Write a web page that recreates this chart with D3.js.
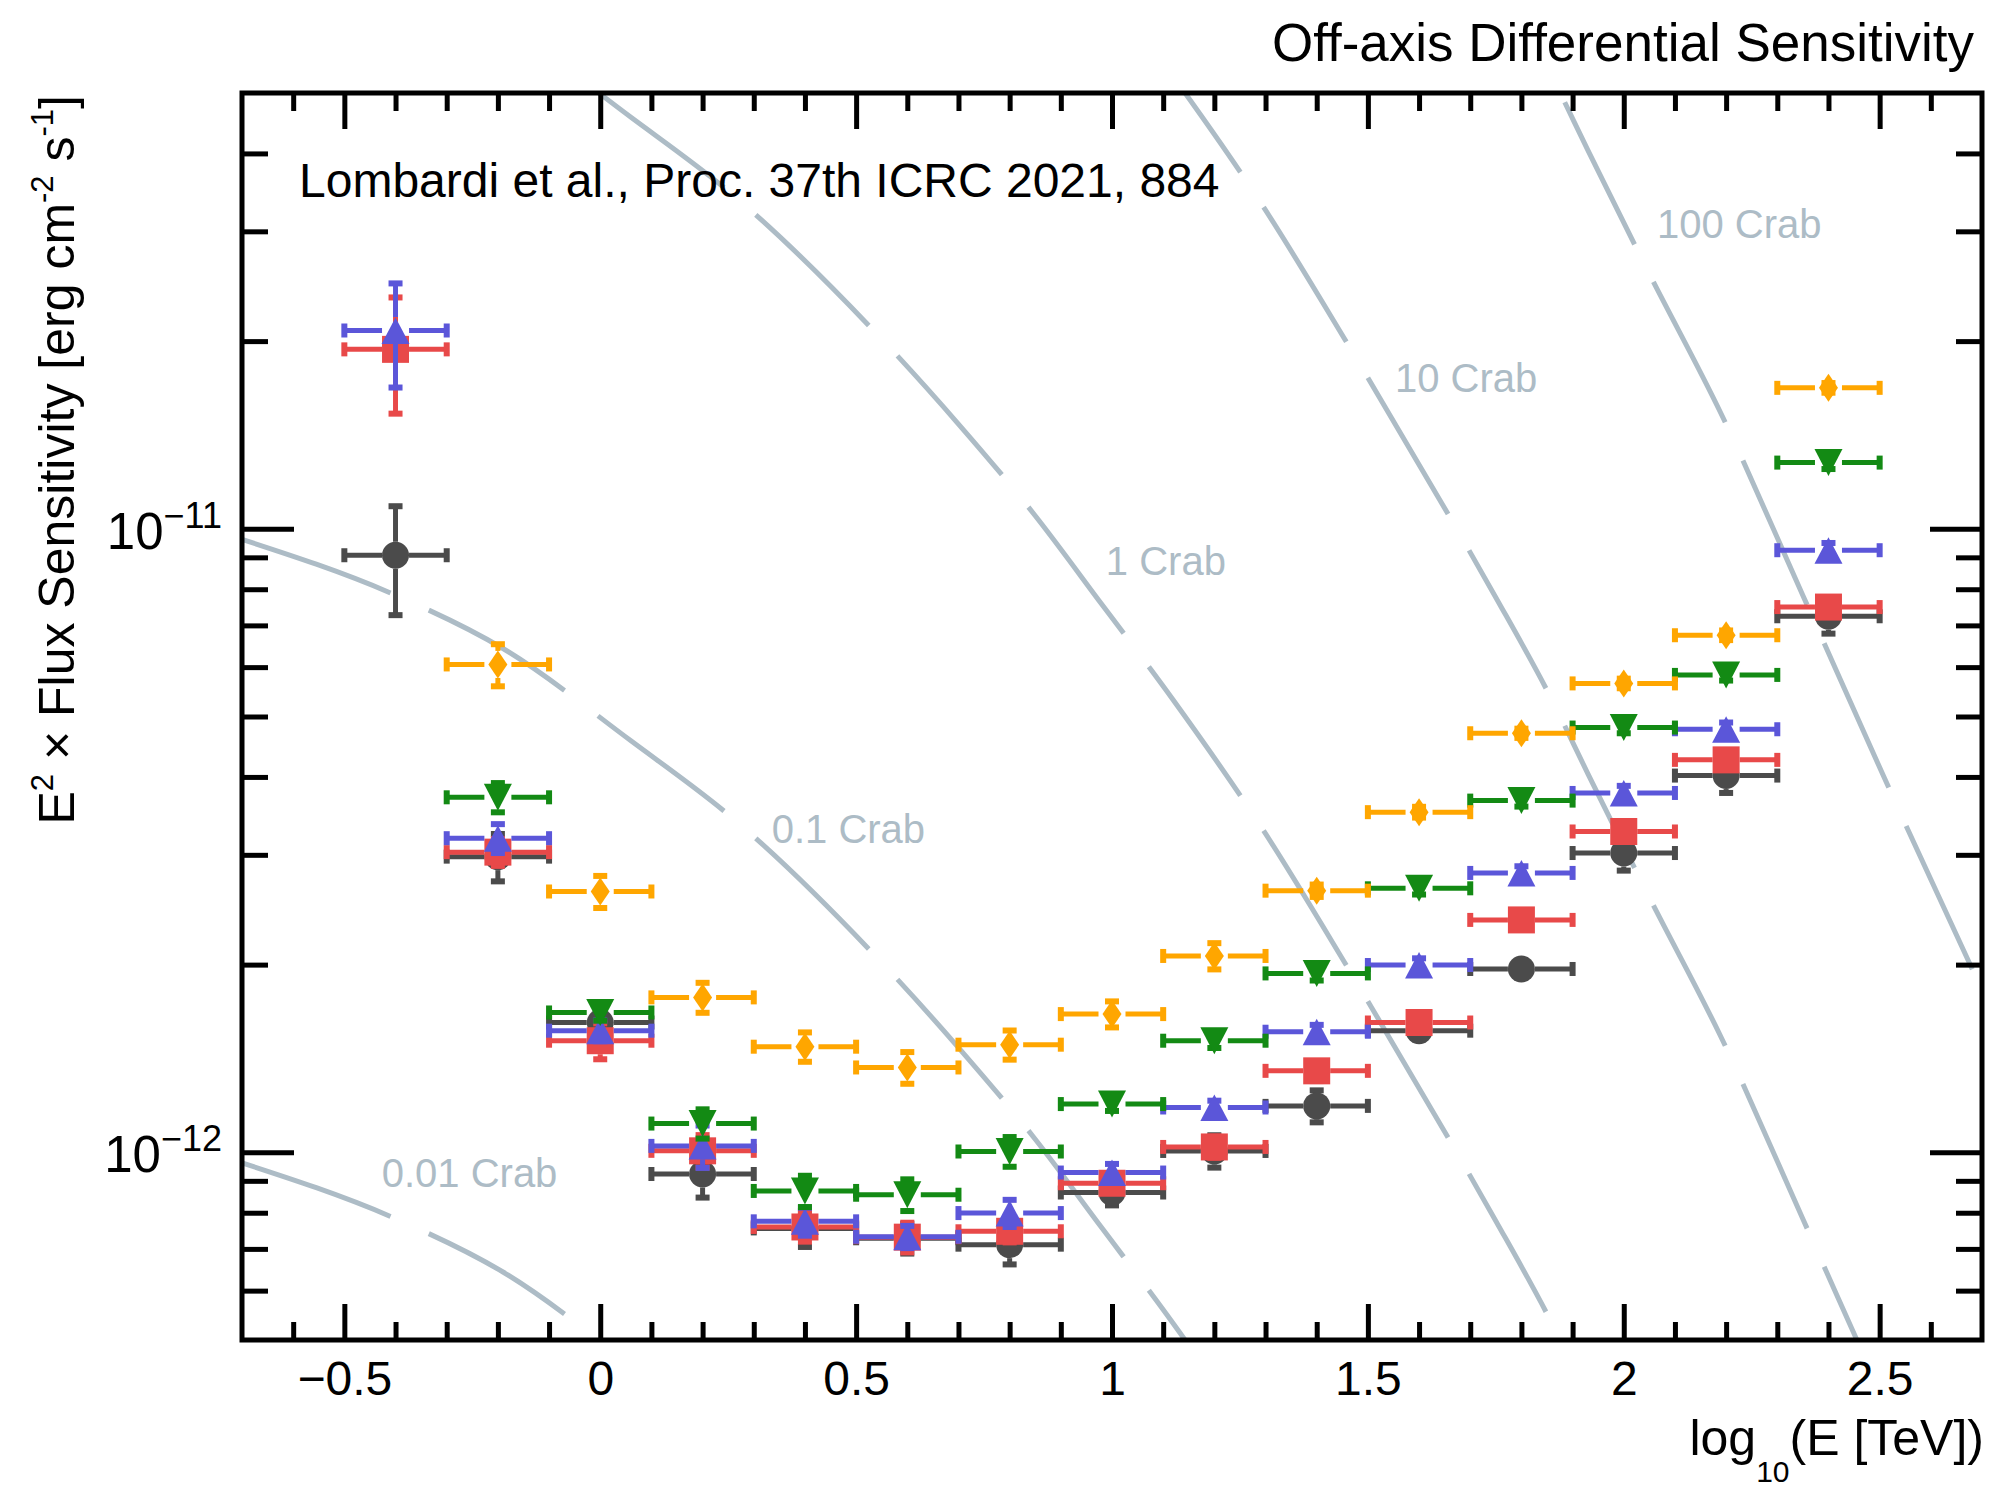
<!DOCTYPE html>
<html>
<head>
<meta charset="utf-8">
<style>
  body { margin: 0; background: #fff; }
  svg text { font-family: "Liberation Sans", Arial, Helvetica, sans-serif; }
</style>
</head>
<body>
<div id="chart"></div>
<script src="https://cdn.jsdelivr.net/npm/d3@7"></script>
<script>
// energy bins, log10(E/TeV), half width 0.1
var binCentres = [-0.4, -0.2, 0.0, 0.2, 0.4, 0.6, 0.8, 1.0, 1.2, 1.4, 1.6, 1.8, 2.0, 2.2, 2.4];
var binHalfWidth = 0.1;

// sensitivity values, units of 1e-12 erg cm^-2 s^-1 (null = no point)
var blackVals  = [9.07, 2.98, 1.615, 0.923, 0.755, 0.728, 0.711, 0.862, 1.005, 1.187, 1.567, 1.968, 3.02, 4.02, 7.24];
var blackErrs  = [1.8, 0.26, 0.05, 0.077, 0.05, 0.04, 0.05, 0.04, 0.06, 0.07, 0.05, 0.06, 0.19, 0.25, 0.45];
var redVals    = [19.4, 3.03, 1.51, 1.0055, 0.759, 0.731, 0.747, 0.892, 1.02, 1.351, 1.615, 2.359, 3.27, 4.26, 7.49];
var redErrs    = [4.1, 0.15, 0.1, 0.06, 0.04, 0.04, 0.03, 0.03, 0.04, 0.05, 0.05, 0.07, 0.1, 0.15, 0.25];
var blueVals   = [20.8, 3.19, 1.567, 1.024, 0.775, 0.732, 0.799, 0.928, 1.18, 1.561, 1.997, 2.806, 3.77, 4.77, 9.24];
var blueErrs   = [3.95, 0.17, 0.06, 0.08, 0.04, 0.03, 0.04, 0.03, 0.03, 0.04, 0.05, 0.07, 0.1, 0.12, 0.25];
var greenVals  = [null, 3.71, 1.676, 1.112, 0.867, 0.855, 1.003, 1.195, 1.51, 1.936, 2.651, 3.665, 4.80, 5.83, 12.77];
var greenErrs  = [null, 0.2, 0.05, 0.06, 0.05, 0.05, 0.055, 0.03, 0.04, 0.05, 0.06, 0.08, 0.1, 0.12, 0.3];
var orangeVals = [null, 6.06, 2.62, 1.772, 1.477, 1.368, 1.488, 1.666, 2.065, 2.628, 3.512, 4.70, 5.65, 6.75, 16.83];
var orangeErrs = [null, 0.47, 0.155, 0.098, 0.08, 0.08, 0.08, 0.08, 0.1, 0.06, 0.07, 0.08, 0.1, 0.12, 0.3];

// 1 Crab reference curve: log10(E/TeV) and log10(E^2 F)
var crabLogE    = [-0.70, -0.39, -0.19, 0.06, 0.26, 0.54, 0.70, 0.85, 0.98, 1.12, 1.30, 1.46, 1.66, 1.75, 1.86, 1.93, 2.05, 2.19, 2.35, 2.51, 2.70];
var crabLogFlux = [-10.017, -10.110, -10.192, -10.340, -10.465, -10.687, -10.832, -10.979, -11.121, -11.275, -11.489, -11.703, -11.981, -12.110, -12.275, -12.393, -12.591, -12.815, -13.107, -13.401, -13.74];
var crabLevels  = [0.01, 0.1, 1, 10, 100];
var crabNames   = ["0.01 Crab", "0.1 Crab", "1 Crab", "10 Crab", "100 Crab"];

// axis ticks
var xMajorTicks = [-0.5, 0, 0.5, 1, 1.5, 2, 2.5];
var yMajorTicks = [1e-12, 1e-11];
var yTickLabels = ["\u221212", "\u221211"];

var W = 1994, H = 1487;
var plotL = 242, plotR = 1982, plotT = 93, plotB = 1340;

var svg = d3.select("#chart").append("svg")
    .attr("width", W).attr("height", H);

var x = d3.scaleLinear().domain([-0.7, 2.7]).range([plotL, plotR]);
var y = d3.scaleLog().domain([5e-13, 5e-11]).range([plotB, plotT]);

svg.append("clipPath").attr("id", "clip")
  .append("rect")
    .attr("x", plotL).attr("y", plotT)
    .attr("width", plotR - plotL).attr("height", plotB - plotT);

// ---- Crab curves ----
var crabColor = "#adbcc6";
var crabPts = crabLogE.map(function(e, i) { return {e: e, f: Math.pow(10, crabLogFlux[i])}; });
var crabLine = d3.line().curve(d3.curveMonotoneX);

var crabG = svg.append("g").attr("clip-path", "url(#clip)");
crabLevels.forEach(function(k) {
  crabG.append("path")
    .attr("d", crabLine(crabPts.map(function(p) { return [x(p.e), y(p.f * k)]; })))
    .attr("fill", "none")
    .attr("stroke", crabColor)
    .attr("stroke-width", 5)
    .attr("stroke-dasharray", "158,42");
});

// label anchors (data coords)
var crabLabelPos = [[-0.427, 8.8e-13], [0.335, 3.13e-12], [0.988, 8.43e-12], [1.553, 1.657e-11], [2.065, 2.926e-11]];
crabNames.forEach(function(t, i) {
  svg.append("text")
    .attr("x", x(crabLabelPos[i][0]))
    .attr("y", y(crabLabelPos[i][1]))
    .attr("font-size", 40)
    .attr("fill", crabColor)
    .text(t);
});

// ---- data points ----
var seriesList = [
  {vals: blackVals,  errs: blackErrs,  color: "#4b4b4b", shape: "circle"},
  {vals: redVals,    errs: redErrs,    color: "#e84949", shape: "square"},
  {vals: blueVals,   errs: blueErrs,   color: "#5b56d9", shape: "triUp"},
  {vals: greenVals,  errs: greenErrs,  color: "#138a14", shape: "triDown"},
  {vals: orangeVals, errs: orangeErrs, color: "#ffa600", shape: "diamond"}
];

function markerPath(shape) {
  var p = d3.path();
  if (shape == "circle") {
    p.moveTo(13.5, 0); p.arc(0, 0, 13.5, 0, 2 * Math.PI);
  } else if (shape == "square") {
    p.rect(-13.5, -13.5, 27, 27);
  } else if (shape == "triUp") {
    p.moveTo(0, -13); p.lineTo(14, 13.5); p.lineTo(-14, 13.5); p.closePath();
  } else if (shape == "triDown") {
    p.moveTo(-14, -13.5); p.lineTo(14, -13.5); p.lineTo(0, 13.5); p.closePath();
  } else {
    p.moveTo(0, -14); p.lineTo(9.5, 0); p.lineTo(0, 14); p.lineTo(-9.5, 0); p.closePath();
  }
  return p.toString();
}

var gap = 13.5;
seriesList.forEach(function(s) {
  var g = svg.append("g");
  binCentres.forEach(function(b, i) {
    var v = s.vals[i];
    if (v == null) return;
    var e = s.errs[i];
    var cx = x(b), cy = y(v * 1e-12);
    var xl = x(b - binHalfWidth), xr = x(b + binHalfWidth);
    var yt = y((v + e) * 1e-12), yb = y((v - e) * 1e-12);
    var pg = g.append("g");
    // horizontal bar
    pg.append("line").attr("x1", xl).attr("x2", cx - gap).attr("y1", cy).attr("y2", cy);
    pg.append("line").attr("x1", cx + gap).attr("x2", xr).attr("y1", cy).attr("y2", cy);
    pg.append("rect").attr("x", xl - 3).attr("y", cy - 7).attr("width", 6).attr("height", 14);
    pg.append("rect").attr("x", xr - 3).attr("y", cy - 7).attr("width", 6).attr("height", 14);
    // vertical bar
    if (yt < cy - gap) pg.append("line").attr("x1", cx).attr("x2", cx).attr("y1", yt).attr("y2", cy - gap);
    if (yb > cy + gap) pg.append("line").attr("x1", cx).attr("x2", cx).attr("y1", cy + gap).attr("y2", yb);
    pg.append("rect").attr("x", cx - 7).attr("y", yt - 3).attr("width", 14).attr("height", 6);
    pg.append("rect").attr("x", cx - 7).attr("y", yb - 3).attr("width", 14).attr("height", 6);
    pg.selectAll("line").attr("stroke", s.color).attr("stroke-width", 5);
    pg.selectAll("rect").attr("fill", s.color);
    pg.append("path")
      .attr("transform", "translate(" + cx + "," + cy + ")")
      .attr("d", markerPath(s.shape))
      .attr("fill", s.color);
  });
});

// ---- axes / frame ----
var xMinor = d3.range(-6, 27).map(function(d) { return d / 10; })
  .filter(function(d) { return Math.abs(d * 2 - Math.round(d * 2)) > 1e-6; });
var yMinor = [];
[-13, -12, -11].forEach(function(p) {
  for (var m = 2; m <= 9; m++) {
    var v = m * Math.pow(10, p);
    if (v > 5.01e-13 && v < 4.99e-11) yMinor.push(v);
  }
});

function styleAxis(g) {
  g.select(".domain").remove();
  g.selectAll("line").attr("stroke", "#000").attr("stroke-width", 5);
}

svg.append("g").attr("transform", "translate(0," + plotB + ")")
  .call(d3.axisBottom(x).tickValues(xMinor).tickSize(-18).tickFormat("")).call(styleAxis);
svg.append("g").attr("transform", "translate(0," + plotT + ")")
  .call(d3.axisTop(x).tickValues(xMinor).tickSize(-18).tickFormat("")).call(styleAxis);
svg.append("g").attr("transform", "translate(0," + plotT + ")")
  .call(d3.axisTop(x).tickValues(xMajorTicks).tickSize(-36).tickFormat("")).call(styleAxis);

var xAxisMajor = svg.append("g").attr("transform", "translate(0," + plotB + ")")
  .call(d3.axisBottom(x).tickValues(xMajorTicks).tickSize(-36).tickPadding(21)
    .tickFormat(function(d) { return d < 0 ? "\u2212" + Math.abs(d) : String(d); }))
  .call(styleAxis);
xAxisMajor.attr("font-size", null).attr("font-family", null);
xAxisMajor.selectAll("text").attr("font-size", 48).attr("fill", "#000");

svg.append("g").attr("transform", "translate(" + plotL + ",0)")
  .call(d3.axisLeft(y).tickValues(yMinor).tickSize(-26).tickFormat("")).call(styleAxis);
svg.append("g").attr("transform", "translate(" + plotL + ",0)")
  .call(d3.axisLeft(y).tickValues(yMajorTicks).tickSize(-52).tickFormat("")).call(styleAxis);
svg.append("g").attr("transform", "translate(" + plotR + ",0)")
  .call(d3.axisRight(y).tickValues(yMinor).tickSize(-26).tickFormat("")).call(styleAxis);
svg.append("g").attr("transform", "translate(" + plotR + ",0)")
  .call(d3.axisRight(y).tickValues(yMajorTicks).tickSize(-52).tickFormat("")).call(styleAxis);

// y tick labels 10^-n
yMajorTicks.forEach(function(v, i) {
  var t = svg.append("text")
    .attr("x", 222).attr("y", y(v) + 20)
    .attr("text-anchor", "end")
    .attr("font-size", 51);
  t.append("tspan").text("10");
  t.append("tspan").attr("dy", -21).attr("font-size", 36).text(yTickLabels[i]);
});

svg.append("rect")
  .attr("x", plotL).attr("y", plotT)
  .attr("width", plotR - plotL).attr("height", plotB - plotT)
  .attr("fill", "none").attr("stroke", "#000").attr("stroke-width", 5);

// ---- texts ----
svg.append("text")
  .attr("x", 1974).attr("y", 61)
  .attr("text-anchor", "end").attr("font-size", 53)
  .text("Off-axis Differential Sensitivity");

svg.append("text")
  .attr("x", 299).attr("y", 197)
  .attr("font-size", 48)
  .text("Lombardi et al., Proc. 37th ICRC 2021, 884");

var xt = svg.append("text")
  .attr("x", 1984).attr("y", 1455)
  .attr("text-anchor", "end").attr("font-size", 50);
xt.append("tspan").text("log");
xt.append("tspan").attr("dy", 27).attr("font-size", 30).text("10");
xt.append("tspan").attr("dy", -27).text("(E [TeV])");

var yt = svg.append("text")
  .attr("transform", "translate(74,95) rotate(-90)")
  .attr("text-anchor", "end").attr("font-size", 50);
yt.append("tspan").text("E");
yt.append("tspan").attr("dy", -21).attr("font-size", 31).text("2");
yt.append("tspan").attr("dy", 21).text(" \u00d7 Flux Sensitivity [erg cm");
yt.append("tspan").attr("dy", -21).attr("font-size", 31).text("-2");
yt.append("tspan").attr("dy", 21).text(" s");
yt.append("tspan").attr("dy", -21).attr("font-size", 31).text("-1");
yt.append("tspan").attr("dy", 21).text("]");
</script>
</body>
</html>
